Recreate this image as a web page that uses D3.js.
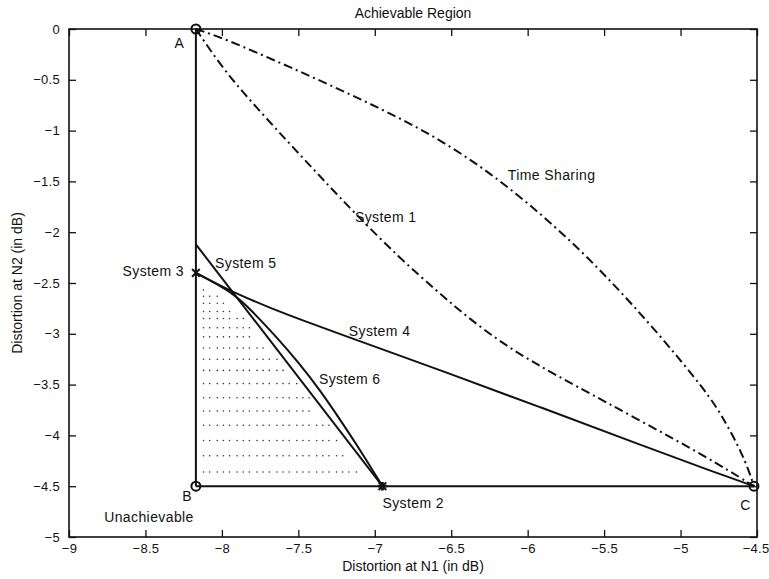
<!DOCTYPE html>
<html>
<head>
<meta charset="utf-8">
<script src="https://cdn.jsdelivr.net/npm/d3@7"></script>
<style>
  body { margin: 0; background: #fff; }
  svg text { font-family: "Liberation Sans", Arial, sans-serif; fill: #111; }
  .axis path { display: none; }
  .axis line { stroke: #111; stroke-width: 1.3; }
  .axis text { font-size: 13px; letter-spacing: 0.3px; }
</style>
</head>
<body>
<svg id="chart" width="769" height="579"></svg>
<script>
// ---- data ----
var xTicks = [-9, -8.5, -8, -7.5, -7, -6.5, -6, -5.5, -5, -4.5];
var yTicks = [0, -0.5, -1, -1.5, -2, -2.5, -3, -3.5, -4, -4.5, -5];

var ptA = [-8.17, 0], ptB = [-8.17, -4.5], ptC = [-4.52, -4.5];
var ptSys2 = [-6.95, -4.5], ptSys3 = [-8.17, -2.40];

var timeSharing = [[-8.17, 0], [-7.99, -0.09], [-7.56, -0.37], [-7.12, -0.67], [-6.68, -0.99],
  [-6.25, -1.40], [-5.81, -1.95], [-5.48, -2.44], [-5.16, -2.97], [-4.83, -3.57],
  [-4.72, -3.83], [-4.61, -4.14], [-4.55, -4.36], [-4.52, -4.5]];
var system1 = [[-8.17, 0], [-7.99, -0.40], [-7.77, -0.78], [-7.55, -1.14], [-7.34, -1.48],
  [-7.12, -1.83], [-6.84, -2.25], [-6.60, -2.57], [-6.40, -2.83], [-6.16, -3.10],
  [-5.93, -3.31], [-5.70, -3.50], [-5.27, -3.85], [-4.83, -4.21], [-4.52, -4.5]];
var system4 = [[-8.17, -2.40], [-7.93, -2.59], [-7.66, -2.76], [-7.45, -2.88], [-7.23, -3.00],
  [-6.90, -3.18], [-6.57, -3.36], [-5.92, -3.72], [-5.27, -4.09], [-4.80, -4.35], [-4.52, -4.5]];
var system5 = [[-8.17, -2.12], [-6.95, -4.5]];
var system6 = [[-8.17, -2.40], [-7.93, -2.59], [-7.80, -2.78], [-7.65, -3.02], [-7.50, -3.28],
  [-7.36, -3.55], [-7.22, -3.86], [-7.08, -4.18], [-6.95, -4.5]];

// dotted fill: row heights, last dot of each row, dot columns
var dotRowsY = [-2.57, -2.63, -2.70, -2.78, -2.85, -2.94, -3.03, -3.14, -3.25, -3.36,
  -3.49, -3.63, -3.76, -3.90, -4.05, -4.20, -4.36];
var dotRowsEnd = [-8.12, -8.03, -7.99, -7.95, -7.86, -7.80, -7.80, -7.71, -7.62, -7.57,
  -7.49, -7.43, -7.39, -7.30, -7.25, -7.21, -7.12];
var dotCols = [-8.12, -8.08, -8.03, -7.99, -7.95, -7.90, -7.86, -7.82, -7.77, -7.73, -7.69,
  -7.64, -7.60, -7.56, -7.51, -7.47, -7.43, -7.38, -7.34, -7.30, -7.25, -7.21, -7.17, -7.12];

var labels = [
  {t: "A", x: -8.31, y: -0.14},
  {t: "B", x: -8.26, y: -4.60},
  {t: "C", x: -4.61, y: -4.69},
  {t: "Unachievable", x: -8.77, y: -4.80},
  {t: "System 2", x: -6.95, y: -4.67},
  {t: "System 3", x: -8.65, y: -2.38},
  {t: "System 5", x: -8.045, y: -2.30},
  {t: "System 4", x: -7.17, y: -2.97},
  {t: "System 1", x: -7.13, y: -1.85},
  {t: "Time Sharing", x: -6.13, y: -1.44},
  {t: "System 6", x: -7.365, y: -3.445}
];

// ---- layout ----
var margin = {left: 69, top: 29, right: 12, bottom: 42};
var W = 769, H = 579;
var svg = d3.select("#chart");
var x = d3.scaleLinear().domain([-9, -4.5]).range([margin.left, W - margin.right]);
var y = d3.scaleLinear().domain([-5, 0]).range([H - margin.bottom, margin.top]);
var fmt = function(d){ return String(d).replace("-", "\u2212"); };

var g = svg.append("g");

// frame
g.append("rect")
  .attr("x", x(-9)).attr("y", y(0))
  .attr("width", x(-4.5) - x(-9)).attr("height", y(-5) - y(0))
  .style("fill", "none").style("stroke", "#111").style("stroke-width", 1.6);

var xAxisG = g.append("g").attr("class", "axis").attr("transform", "translate(0," + y(-5) + ")")
  .call(d3.axisBottom(x).tickValues(xTicks).tickSize(-7).tickPadding(7).tickFormat(fmt));
// keep the last label inside the window
xAxisG.selectAll(".tick").filter(function(d){ return d === -4.5; })
  .select("text").attr("text-anchor", "end").attr("dx", "12px");
g.append("g").attr("class", "axis").attr("transform", "translate(0," + y(0) + ")")
  .call(d3.axisTop(x).tickValues(xTicks).tickSize(-7).tickFormat(""));
g.append("g").attr("class", "axis").attr("transform", "translate(" + x(-9) + ",0)")
  .call(d3.axisLeft(y).tickValues(yTicks).tickSize(-7).tickPadding(9).tickFormat(fmt));
g.append("g").attr("class", "axis").attr("transform", "translate(" + x(-4.5) + ",0)")
  .call(d3.axisRight(y).tickValues(yTicks).tickSize(-7).tickFormat(""));

// dots
var dots = [];
dotRowsY.forEach(function(ry, i){
  dotCols.forEach(function(cx){ if (cx <= dotRowsEnd[i] + 0.001) dots.push([cx, ry]); });
});
g.append("g").selectAll("circle").data(dots).enter().append("circle")
  .attr("cx", function(d){ return x(d[0]); })
  .attr("cy", function(d){ return y(d[1]); })
  .attr("r", 0.8).style("fill", "#333");

var line = d3.line().x(function(d){ return x(d[0]); }).y(function(d){ return y(d[1]); });
var curve = d3.line().curve(d3.curveBasis)
  .x(function(d){ return x(d[0]); }).y(function(d){ return y(d[1]); });

function path(data, gen, dash){
  g.append("path").datum(data).attr("d", gen)
    .style("fill", "none").style("stroke", "#111").style("stroke-width", 2)
    .style("stroke-dasharray", dash || null);
}
path([ptA, ptB], line);
path([ptB, ptC], line);
path(system5, line);
path(system6, curve);
path(system4, curve);
path(system1, curve, "9,4,2,4");
path(timeSharing, curve, "9,4,2,4");

// markers
[ptA, ptB, ptC].forEach(function(p){
  g.append("circle").attr("cx", x(p[0])).attr("cy", y(p[1])).attr("r", 4.5)
    .style("fill", "none").style("stroke", "#111").style("stroke-width", 2);
});
[ptSys2, ptSys3].forEach(function(p){
  g.append("path").attr("transform", "translate(" + x(p[0]) + "," + y(p[1]) + ")")
    .attr("d", d3.symbol().type(d3.symbolTimes).size(40))
    .style("fill", "none").style("stroke", "#111").style("stroke-width", 2);
});
g.append("path").attr("transform", "translate(" + x(ptSys2[0]) + "," + y(ptSys2[1]) + ")")
  .attr("d", d3.symbol().type(d3.symbolCross).size(40)).style("fill", "#111");

// text annotations
g.append("g").selectAll("text").data(labels).enter().append("text")
  .attr("x", function(d){ return x(d.x); })
  .attr("y", function(d){ return y(d.y); })
  .attr("dy", "0.35em")
  .style("font-size", "14px").style("letter-spacing", "0.4px")
  .text(function(d){ return d.t; });

svg.append("text").attr("x", (x(-9) + x(-4.5)) / 2).attr("y", 18)
  .attr("text-anchor", "middle").style("font-size", "14px").text("Achievable Region");
svg.append("text").attr("x", (x(-9) + x(-4.5)) / 2).attr("y", 571)
  .attr("text-anchor", "middle").style("font-size", "14px").text("Distortion at N1 (in dB)");
svg.append("text").attr("transform", "translate(22," + (y(-2.5)) + ") rotate(-90)")
  .attr("text-anchor", "middle").style("font-size", "14px").text("Distortion at N2 (in dB)");
</script>
</body>
</html>
